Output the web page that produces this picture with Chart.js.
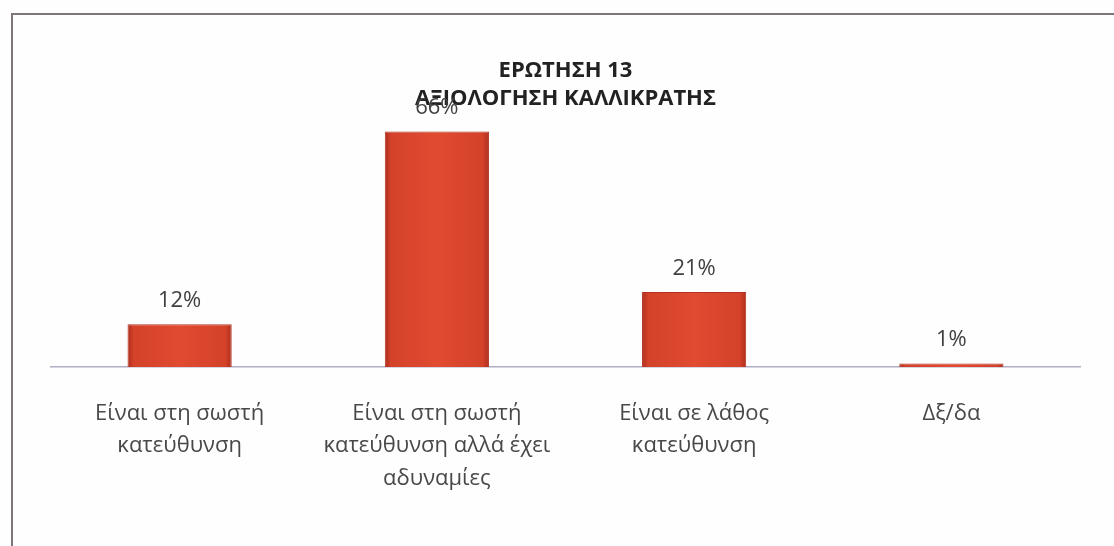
<!DOCTYPE html>
<html>
<head>
<meta charset="utf-8">
<script src="https://cdn.jsdelivr.net/npm/chart.js@4"></script>
<style>
  body { margin: 0; background: #fff; }
  #wrap { position: relative; width: 1114px; height: 546px; background: #fefefe; }
  #frame { position: absolute; left: 11px; top: 13px; right: 0; bottom: 0;
           border-left: 2px solid #7d777b; border-top: 2px solid #7d777b; }
  canvas { position: absolute; left: 0; top: 0; }
</style>
</head>
<body>
<div id="wrap">
  <div id="frame"></div>
  <canvas id="chart" width="1114" height="546"></canvas>
</div>
<script>
const titleLines = ["ΕΡΩΤΗΣΗ 13", "ΑΞΙΟΛΟΓΗΣΗ ΚΑΛΛΙΚΡΑΤΗΣ"];
const categories = [
  ["Είναι στη σωστή", "κατεύθυνση"],
  ["Είναι στη σωστή", "κατεύθυνση αλλά έχει", "αδυναμίες"],
  ["Είναι σε λάθος", "κατεύθυνση"],
  ["Δξ/δα"]
];
const values = [12, 66, 21, 1];
const valueLabels = ["12%", "66%", "21%", "1%"];

const barShare = 0.9 * 0.45;

function barFill(ctx) {
  const chart = ctx.chart;
  if (!chart.chartArea) return "#d9452c";
  const xs = chart.scales.x;
  const cx = xs.getPixelForValue(ctx.dataIndex);
  const w = (xs.width / values.length) * barShare;
  const g = chart.ctx.createLinearGradient(cx - w / 2, 0, cx + w / 2, 0);
  g.addColorStop(0, "#ad2e1c");
  g.addColorStop(0.06, "#d4422a");
  g.addColorStop(0.5, "#e04b31");
  g.addColorStop(0.94, "#d4422a");
  g.addColorStop(1, "#ad2e1c");
  return g;
}

// percent labels above each bar
const valueLabelPlugin = {
  id: "valueLabels",
  afterDatasetsDraw(chart) {
    const c = chart.ctx;
    const meta = chart.getDatasetMeta(0);
    c.save();
    c.font = "22px 'Open Sans'";
    c.fillStyle = "#404040";
    c.textAlign = "center";
    c.textBaseline = "alphabetic";
    meta.data.forEach((bar, i) => {
      c.fillText(valueLabels[i], bar.x, bar.y - 17);
    });
    c.restore();
  }
};

new Chart(document.getElementById("chart"), {
  type: "bar",
  data: {
    labels: categories,
    datasets: [{
      data: values,
      backgroundColor: barFill,
      borderColor: "#b03420",
      borderWidth: 1,
      barPercentage: 0.9,
      categoryPercentage: 0.45
    }]
  },
  options: {
    responsive: false,
    animation: false,
    layout: { padding: { left: 51, right: 34, top: 0, bottom: 0 } },
    plugins: {
      legend: { display: false },
      tooltip: { enabled: false },
      title: {
        display: true,
        text: titleLines,
        color: "#222222",
        font: { family: "'Open Sans'", size: 22, weight: "bold", lineHeight: 1.3 },
        padding: { top: 56, bottom: 4 }
      }
    },
    scales: {
      y: { display: false, min: 0, max: 70 },
      x: {
        grid: { display: false, drawTicks: false },
        border: { display: true, color: "#b0aec2", width: 1.5 },
        ticks: {
          color: "#484848",
          font: { family: "'Open Sans'", size: 22, lineHeight: 1.48 },
          padding: 30,
          maxRotation: 0,
          autoSkip: false
        },
        afterFit(scale) { scale.height = 179; }
      }
    }
  },
  plugins: [valueLabelPlugin]
});
</script>
</body>
</html>
